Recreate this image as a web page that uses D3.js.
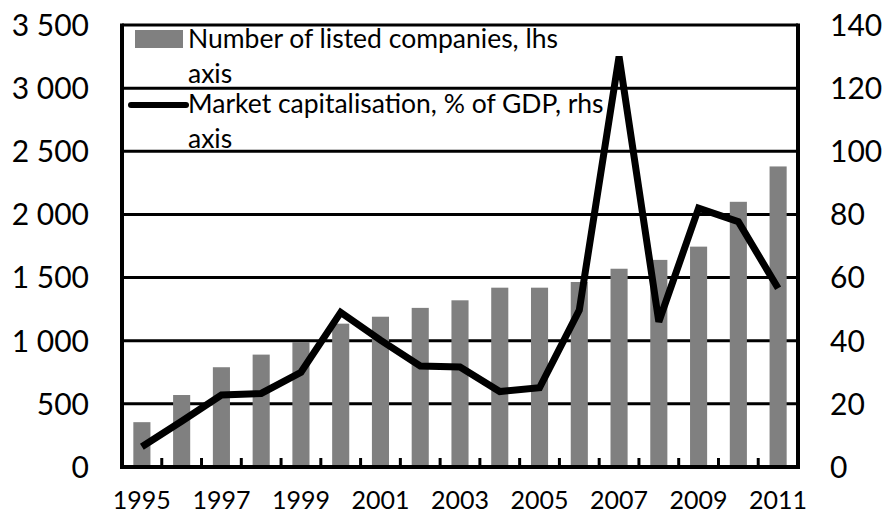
<!DOCTYPE html>
<html>
<head>
<meta charset="utf-8">
<script src="https://cdn.jsdelivr.net/npm/d3@7"></script>
<style>
  html, body { margin: 0; padding: 0; background: #fff; }
  svg { display: block; font-family: Lato, 'Open Sans', sans-serif; }
</style>
</head>
<body>
<div id="chart"></div>
<script>
// years on the x axis
const years = [1995, 1996, 1997, 1998, 1999, 2000, 2001, 2002, 2003,
  2004, 2005, 2006, 2007, 2008, 2009, 2010, 2011];
// number of listed companies (lhs)
const listedCompanies = [355, 570, 790, 890, 990, 1135, 1190, 1260, 1320,
  1420, 1420, 1465, 1570, 1640, 1745, 2100, 2380];
// market capitalisation, % of GDP (rhs)
const marketCap = [6.4, 14.5, 22.8, 23.3, 30, 49, 40.2, 32, 31.7,
  23.9, 25.1, 49.7, 130, 46, 82, 77.7, 56.6];
const leftTicks = [0, 500, 1000, 1500, 2000, 2500, 3000, 3500];
const rightTicks = [0, 20, 40, 60, 80, 100, 120, 140];
const legendLabels = [
  ['Number of listed companies, lhs', 'axis'],
  ['Market capitalisation, % of GDP, rhs', 'axis'],
];

const cfg = {
  width: 886,
  height: 513,
  left: 122,
  right: 798,
  top: 25,
  bottom: 467,
  barColor: '#808080',
  lineWidth: 7,
};

const svg = d3.select('#chart')
  .append('svg')
  .attr('width', cfg.width)
  .attr('height', cfg.height);

const x = d3.scaleBand()
  .domain(years)
  .range([cfg.left, cfg.right])
  .paddingInner(0.57)
  .paddingOuter(0.285);

const band = d3.scaleBand().domain(years).range([cfg.left, cfg.right]);

const yLeft = d3.scaleLinear().domain([0, 3500]).range([cfg.bottom, cfg.top]);
const yRight = d3.scaleLinear().domain([0, 140]).range([cfg.bottom, cfg.top]);

// gridlines
svg.append('g')
  .selectAll('line')
  .data(leftTicks.slice(1))
  .enter().append('line')
  .attr('x1', cfg.left)
  .attr('x2', cfg.right)
  .attr('y1', d => yLeft(d))
  .attr('y2', d => yLeft(d))
  .style('stroke', '#000')
  .style('stroke-width', 3);

// bars
svg.append('g')
  .selectAll('rect')
  .data(years)
  .enter().append('rect')
  .attr('x', d => x(d))
  .attr('width', x.bandwidth())
  .attr('y', (d, i) => yLeft(listedCompanies[i]))
  .attr('height', (d, i) => yLeft(0) - yLeft(listedCompanies[i]))
  .style('fill', cfg.barColor);

// frame: left, right and bottom axis lines
const frame = svg.append('g').style('stroke', '#000').style('stroke-width', 4);
frame.append('line')
  .attr('x1', cfg.left).attr('x2', cfg.left)
  .attr('y1', cfg.top - 1.5).attr('y2', cfg.bottom + 2);
frame.append('line')
  .attr('x1', cfg.right).attr('x2', cfg.right)
  .attr('y1', cfg.top - 1.5).attr('y2', cfg.bottom + 2);
frame.append('line')
  .attr('x1', cfg.left - 2).attr('x2', cfg.right + 2)
  .attr('y1', cfg.bottom).attr('y2', cfg.bottom);

// category tick marks (inside, at band boundaries)
svg.append('g')
  .selectAll('line')
  .data(years.slice(1))
  .enter().append('line')
  .attr('x1', d => band(d))
  .attr('x2', d => band(d))
  .attr('y1', cfg.bottom)
  .attr('y2', cfg.bottom - 9)
  .style('stroke', '#000')
  .style('stroke-width', 3);

// market cap line
const line = d3.line()
  .x(d => band(d.year) + band.bandwidth() / 2)
  .y(d => yRight(d.value));

svg.append('path')
  .datum(years.map((year, i) => ({ year, value: marketCap[i] })))
  .attr('d', line)
  .style('fill', 'none')
  .style('stroke', '#000')
  .style('stroke-width', cfg.lineWidth)
  .style('stroke-linejoin', 'miter')
  .style('stroke-miterlimit', 2.5);

// left axis labels
const fmt = d => (d >= 1000 ? `${Math.floor(d / 1000)} ${String(d % 1000).padStart(3, '0')}` : `${d}`);
svg.append('g')
  .selectAll('text')
  .data(leftTicks)
  .enter().append('text')
  .attr('x', 89)
  .attr('y', d => yLeft(d))
  .attr('dy', '0.36em')
  .attr('text-anchor', 'end')
  .style('font-size', '30px')
  .text(fmt);

// right axis labels
svg.append('g')
  .selectAll('text')
  .data(rightTicks)
  .enter().append('text')
  .attr('x', 830)
  .attr('y', d => yRight(d))
  .attr('dy', '0.36em')
  .style('font-size', '30px')
  .text(d => d);

// year labels, every other year
svg.append('g')
  .selectAll('text')
  .data(years.filter((d, i) => i % 2 === 0))
  .enter().append('text')
  .attr('x', d => band(d) + band.bandwidth() / 2)
  .attr('y', 509)
  .attr('text-anchor', 'middle')
  .style('font-size', '25px')
  .text(d => d);

// legend
const legend = svg.append('g');
legend.append('rect')
  .attr('x', 135).attr('y', 30)
  .attr('width', 48).attr('height', 18)
  .style('fill', cfg.barColor);
legend.append('line')
  .attr('x1', 131).attr('x2', 186)
  .attr('y1', 105).attr('y2', 105)
  .style('stroke', '#000')
  .style('stroke-width', 6)
  .style('stroke-linecap', 'round');

[48, 113].forEach((y0, i) => {
  const t = legend.append('text')
    .attr('x', 188)
    .attr('y', y0)
    .style('font-size', '26.5px');
  legendLabels[i].forEach((s, j) => {
    t.append('tspan')
      .attr('x', 188)
      .attr('dy', j === 0 ? 0 : 35)
      .text(s);
  });
});
</script>
</body>
</html>
